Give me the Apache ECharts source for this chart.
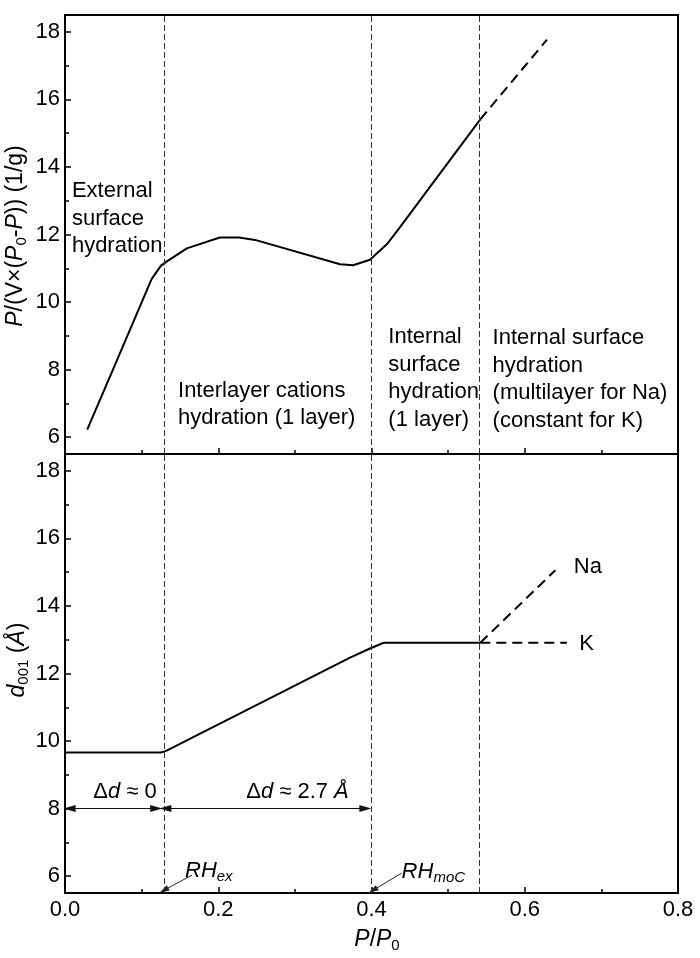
<!DOCTYPE html>
<html><head><meta charset="utf-8">
<script src="https://cdn.jsdelivr.net/npm/echarts@6/dist/echarts.min.js"></script>
<style>html,body{margin:0;padding:0;background:#fff}#c{width:700px;height:958px}</style>
</head><body><div id="c"></div>
<script>
const FONT = "'Liberation Sans', Arial, sans-serif";

// ---- data ----
const xTickValues = [0, 0.2, 0.4, 0.6, 0.8];
const yMajorTicks = [6, 8, 10, 12, 14, 16, 18];
const yMinorTicks = [7, 9, 11, 13, 15, 17];
const regionBounds = [0.125, 0.398, 0.5425];

const topSolid = [[0.029,6.22],[0.063,8.02],[0.113,10.68],[0.125,11.07],[0.132,11.19],[0.159,11.59],
  [0.202,11.91],[0.227,11.91],[0.248,11.84],[0.359,11.12],[0.376,11.09],[0.398,11.25],
  [0.420,11.71],[0.437,12.21],[0.542,15.41]];
const topDashed = [[0.542,15.41],[0.629,17.77]];

const d001Solid = [[0,9.66],[0.125,9.66],[0.132,9.71],[0.372,12.47],[0.398,12.74],[0.416,12.91],[0.542,12.91]];
const d001Na = [[0.542,12.91],[0.640,15.06]];
const d001K = [[0.542,12.91],[0.655,12.91]];

const deltaArrowY = 8;
const deltaArrowSpans = [[0.006, 0.119], [0.131, 0.392]];
const rhArrows = [[[0.1657,6.03],[0.129,5.58]], [[0.4394,6.09],[0.402,5.58]]];

// annotations: [gridIndex, x, y(first line centre), align, text]
const topNotes = [
  [0, 0.009, 13.29, 'left', 'External\nsurface\nhydration'],
  [0, 0.1475, 7.38, 'left', 'Interlayer cations\nhydration (1 layer)'],
  [0, 0.422, 8.96, 'left', 'Internal\nsurface\nhydration\n(1 layer)'],
  [0, 0.558, 8.93, 'left', 'Internal surface\nhydration\n(multilayer for Na)\n(constant for K)']
];
const bottomNotes = [
  [1, 0.0783, 8.50, 'center', 'Δ{i|d} ≈ 0'],
  [1, 0.3034, 8.50, 'center', 'Δ{i|d} ≈ 2.7 {i|Å}'],
  [1, 0.1566, 6.15, 'left', '{i|RH}{isub|ex}'],
  [1, 0.4393, 6.13, 'left', '{i|RH}{isub|moC}'],
  [1, 0.664, 15.16, 'left', 'Na'],
  [1, 0.671, 12.87, 'left', 'K']
];

// ---- chart ----
const chart = echarts.init(document.getElementById('c'));
const LH = 27.5;
const RICH = {
  i: {fontStyle:'italic', fontSize:22, fontFamily:FONT, lineHeight:LH, fill:'#000', color:'#000'},
  sub: {fontSize:15, fontFamily:FONT, lineHeight:15, verticalAlign:'bottom', fill:'#000', color:'#000'},
  isub: {fontStyle:'italic', fontSize:15, fontFamily:FONT, lineHeight:15, verticalAlign:'bottom', fill:'#000', color:'#000'}
};
const RICH23 = {
  i: {fontStyle:'italic', fontSize:23, fontFamily:FONT, lineHeight:26, fill:'#000'},
  sub: {fontSize:15, fontFamily:FONT, lineHeight:15, verticalAlign:'bottom', fill:'#000'}
};

function xAxisCfg(gridIndex, showLabel) {
  return {
    type:'value', gridIndex, min:0, max:0.8, interval:0.2, position:'bottom',
    axisLine:{show:true, onZero:false, lineStyle:{color:'#000', width:2}},
    axisTick:{show:true, inside:true, length:6, lineStyle:{color:'#000', width:1.5}},
    minorTick:{show:true, splitNumber:2, length:4, lineStyle:{color:'#000', width:1.5}},
    splitLine:{show:false}, minorSplitLine:{show:false},
    axisLabel:{show:showLabel, margin:6, color:'#000', fontSize:22, fontFamily:FONT,
      formatter:v => v.toFixed(1)}
  };
}
function yAxisCfg(gridIndex, major) {
  return {
    type:'value', gridIndex, min:5.5, max:18.5, splitNumber:6, position:'left',
    axisLine:{show:major, onZero:false, lineStyle:{color:'#000', width:2}},
    axisTick:{show:true, inside:true, length: major ? 6 : 4,
      customValues: major ? yMajorTicks : yMinorTicks, lineStyle:{color:'#000', width:1.5}},
    splitLine:{show:false},
    axisLabel:{show:major, margin:5, color:'#000', fontSize:22, fontFamily:FONT,
      customValues: yMajorTicks, showMinLabel:true, showMaxLabel:true}
  };
}

const vLines = {
  silent:true, symbol:['none','none'], label:{show:false}, animation:false,
  lineStyle:{type:[6,3], color:'#333', width:1},
  data: regionBounds.map(v => ({xAxis:v}))
};
const solidStyle = {color:'#000', width:2};
const dashStyle = {color:'#000', width:2, type:[10,6]};

chart.setOption({
  animation:false,
  backgroundColor:'#fff',
  grid:[
    {left:65, right:22, top:15, height:439, show:true, borderColor:'#000', borderWidth:2, backgroundColor:'transparent'},
    {left:65, right:22, top:454, height:439, show:true, borderColor:'#000', borderWidth:2, backgroundColor:'transparent'}
  ],
  xAxis:[xAxisCfg(0,false), xAxisCfg(1,true)],
  yAxis:[yAxisCfg(0,true), yAxisCfg(0,false), yAxisCfg(1,true), yAxisCfg(1,false)],
  series:[
    {type:'line', xAxisIndex:0, yAxisIndex:0, data:topSolid, symbol:'none', lineStyle:solidStyle, markLine:vLines},
    {type:'line', xAxisIndex:0, yAxisIndex:0, data:topDashed, symbol:'none', lineStyle:dashStyle},
    {type:'line', xAxisIndex:1, yAxisIndex:2, data:d001Solid, symbol:'none', lineStyle:solidStyle, markLine:vLines},
    {type:'line', xAxisIndex:1, yAxisIndex:2, data:d001Na, symbol:'none', lineStyle:dashStyle},
    {type:'line', xAxisIndex:1, yAxisIndex:2, data:d001K, symbol:'none', lineStyle:dashStyle},
    {type:'line', xAxisIndex:1, yAxisIndex:2, data:[], symbol:'none',
      markLine:{silent:true, symbol:['triangle','triangle'], symbolSize:[7,12], label:{show:false},
        lineStyle:{type:'solid', color:'#111', width:1},
        data: deltaArrowSpans.map(s => [{coord:[s[0], deltaArrowY]}, {coord:[s[1], deltaArrowY]}])}},
    {type:'line', xAxisIndex:1, yAxisIndex:2, data:[], symbol:'none',
      markLine:{silent:true, symbol:['none','triangle'], symbolSize:[6,10], label:{show:false},
        lineStyle:{type:'solid', color:'#222', width:1},
        data: rhArrows.map(a => [{coord:a[0]}, {coord:a[1]}])}}
  ]
});

function toPx(g, x, y) {
  return chart.convertToPixel(g === 0 ? {xAxisIndex:0, yAxisIndex:0} : {xAxisIndex:1, yAxisIndex:2}, [x, y]);
}
const graphics = [];
topNotes.concat(bottomNotes).forEach(n => {
  const p = toPx(n[0], n[1], n[2]);
  graphics.push({type:'text', x:p[0], y:p[1] - LH/2, silent:true,
    style:{text:n[4], fontFamily:FONT, fontSize:22, fill:'#000', lineHeight:LH,
      align:n[3], textAlign:n[3], verticalAlign:'top', textVerticalAlign:'top', rich:RICH}});
});
// axis titles
graphics.push({type:'text', x:16, y:236, rotation:Math.PI/2, silent:true,
  style:{text:'{i|P}/(V×({i|P}{sub|0}-{i|P})) (1/g)', fontFamily:FONT, fontSize:23, lineHeight:26, fill:'#000',
    align:'center', textAlign:'center', verticalAlign:'middle', textVerticalAlign:'middle', rich:RICH23}});
graphics.push({type:'text', x:18, y:660, rotation:Math.PI/2, silent:true,
  style:{text:'{i|d}{sub|001} ({i|Å})', fontFamily:FONT, fontSize:23, lineHeight:26, fill:'#000',
    align:'center', textAlign:'center', verticalAlign:'middle', textVerticalAlign:'middle', rich:RICH23}});
graphics.push({type:'text', x:377, y:940, silent:true,
  style:{text:'{i|P}/{i|P}{sub|0}', fontFamily:FONT, fontSize:23, lineHeight:26, fill:'#000',
    align:'center', textAlign:'center', verticalAlign:'middle', textVerticalAlign:'middle', rich:RICH23}});
chart.setOption({graphic:graphics});
</script>
</body></html>
